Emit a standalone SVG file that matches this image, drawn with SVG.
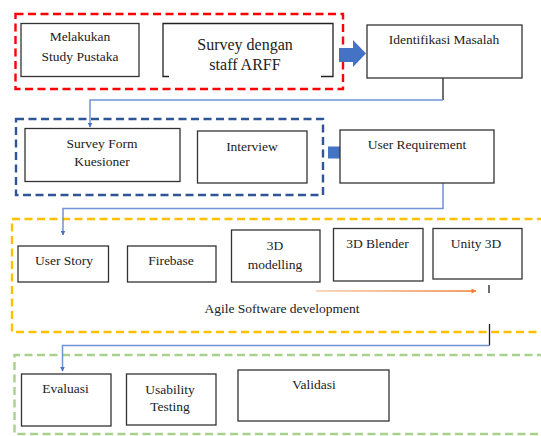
<svg xmlns="http://www.w3.org/2000/svg" width="541" height="436" viewBox="0 0 541 436">
<style>
.box{fill:#fff;stroke:#333;stroke-width:1.3}
.t{font-family:"Liberation Serif","Times New Roman",serif;font-size:13.5px;fill:#222;text-anchor:middle}
.big{font-size:16px}
.grp{fill:none;stroke-width:2.4;stroke-dasharray:8 4.5}
.conn{fill:none;stroke:#6F93D3;stroke-width:1.5}
.blk{fill:none;stroke:#222;stroke-width:1.3}
</style>
<defs>
<marker id="ah" viewBox="0 0 10 10" refX="9" refY="5" markerWidth="5" markerHeight="5" orient="auto" markerUnits="userSpaceOnUse">
<path d="M0,0 L10,5 L0,10 z" fill="#4472C4"/>
</marker>
<marker id="oh" viewBox="0 0 10 10" refX="9" refY="5" markerWidth="6" markerHeight="5" orient="auto" markerUnits="userSpaceOnUse">
<path d="M0,0 L10,5 L0,10 z" fill="#ED7D31"/>
</marker>
<linearGradient id="og" gradientUnits="userSpaceOnUse" x1="316" y1="291" x2="476" y2="291">
<stop offset="0" stop-color="#F8C9A8"/>
<stop offset="1" stop-color="#ED7D31"/>
</linearGradient>
</defs>

<g id="groups">
<rect class="grp" x="15.5" y="14" width="327.5" height="75" stroke="#FF0000"/>
<rect class="grp" x="16" y="119" width="307" height="76" stroke="#2F5597"/>
<path class="grp" d="M545,219 H12 V332 H545" stroke="#FFC000"/>
<path class="grp" d="M545,355 H14.5 V434 H545" stroke="#A9D18E"/>
</g>

<g id="connectors">
<path class="blk" d="M443,78 V100"/>
<path class="conn" d="M443,100 H90 V127" marker-end="url(#ah)"/>
<path class="conn" d="M443,183 V208.5 H63 V235" marker-end="url(#ah)"/>
<path class="blk" d="M489,285 V293 M489.5,324 V345.5"/>
<path class="conn" d="M489.5,345.5 H62.5 V371" marker-end="url(#ah)"/>
<path d="M316,291 H476" stroke="url(#og)" stroke-width="1.4" fill="none" marker-end="url(#oh)"/>
<path d="M339,48 H353 V40 L366,53.5 L353,67 V62 H339 Z" fill="#4472C4"/>
<rect x="328" y="146.5" width="12" height="12" fill="#4472C4"/>
</g>

<g id="melakukan">
<rect class="box" x="21" y="23.5" width="118" height="53"/>
<text class="t" x="80" y="41">Melakukan</text>
<text class="t" x="80" y="61">Study Pustaka</text>
</g>
<g id="survey-staff">
<rect x="163" y="23.5" width="170" height="53" fill="#fff"/>
<path class="blk" d="M169,76.5 H163 V23.5 H333 V76.5 H321"/>
<text class="t big" x="245" y="50">Survey dengan</text>
<text class="t big" x="245" y="70">staff ARFF</text>
</g>
<g id="identifikasi">
<rect class="box" x="367" y="25" width="155" height="53"/>
<text class="t" x="444" y="44">Identifikasi Masalah</text>
</g>

<g id="survey-form">
<rect class="box" x="25" y="128.5" width="155" height="53"/>
<text class="t" x="102" y="148">Survey Form</text>
<text class="t" x="102" y="166">Kuesioner</text>
</g>
<g id="interview">
<rect class="box" x="197.5" y="131" width="109.5" height="52"/>
<text class="t" x="252" y="151">Interview</text>
</g>
<g id="user-requirement">
<rect class="box" x="340" y="130" width="154" height="53"/>
<text class="t" x="417" y="149">User Requirement</text>
</g>

<g id="user-story">
<rect class="box" x="18" y="246" width="90.5" height="36"/>
<text class="t" x="64" y="265">User Story</text>
</g>
<g id="firebase">
<rect class="box" x="127.5" y="246" width="88.5" height="36"/>
<text class="t" x="171" y="265">Firebase</text>
</g>
<g id="modelling">
<rect class="box" x="231.5" y="230" width="88.5" height="52"/>
<text class="t" x="275" y="250">3D</text>
<text class="t" x="275" y="269">modelling</text>
</g>
<g id="blender">
<rect class="box" x="333.5" y="228.5" width="89.5" height="52.5"/>
<text class="t" x="377.5" y="248">3D Blender</text>
</g>
<g id="unity">
<rect class="box" x="433" y="228.5" width="89" height="50.5"/>
<text class="t" x="476" y="248">Unity 3D</text>
</g>
<text class="t" x="282" y="313">Agile Software development</text>

<g id="evaluasi">
<rect class="box" x="21.5" y="374" width="89.5" height="52"/>
<text class="t" x="65.5" y="393">Evaluasi</text>
</g>
<g id="usability">
<rect class="box" x="126.5" y="374" width="89.5" height="51"/>
<text class="t" x="170" y="394">Usability</text>
<text class="t" x="170" y="411">Testing</text>
</g>
<g id="validasi">
<rect class="box" x="238" y="370" width="151" height="51"/>
<text class="t" x="314" y="389">Validasi</text>
</g>
</svg>
